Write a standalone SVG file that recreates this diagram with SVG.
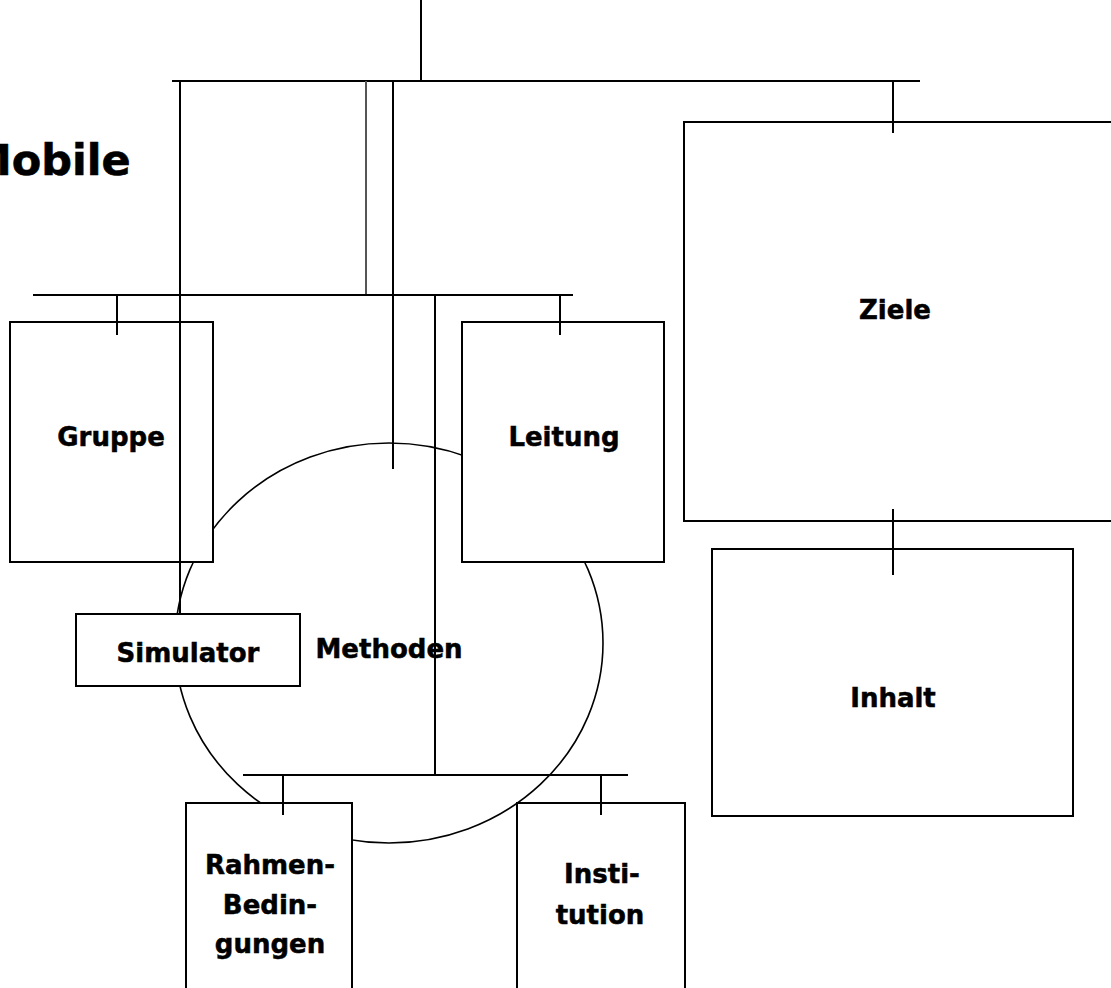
<svg xmlns="http://www.w3.org/2000/svg" width="1111" height="988" viewBox="0 0 1111 988">
<style>
.ln{stroke:#000;stroke-width:2;fill:none}
.bx{stroke:#000;stroke-width:2;fill:#fff}
.t{font-family:"DejaVu Sans","Liberation Sans",sans-serif;font-weight:bold;font-size:26px;fill:#000;stroke:#000;stroke-width:0.5;text-anchor:middle}
</style>
<rect width="1111" height="988" fill="#fff"/>
<text x="-31" y="175" style="font-family:'DejaVu Sans','Liberation Sans',sans-serif;font-weight:bold;font-size:43px;stroke:#000;stroke-width:0.6">Mobile</text>
<g id="methoden">
<ellipse cx="389" cy="643" rx="214" ry="200" class="ln" style="stroke-width:1.6"/>
<text class="t" x="389" y="658">Methoden</text>
</g>
<g id="gruppe">
<rect class="bx" x="10" y="322" width="203" height="240"/>
<text class="t" x="111" y="446">Gruppe</text>
</g>
<g id="leitung">
<rect class="bx" x="462" y="322" width="202" height="240"/>
<text class="t" x="564" y="446">Leitung</text>
</g>
<g id="ziele">
<rect class="bx" x="684" y="122" width="440" height="399"/>
<text class="t" x="895" y="319">Ziele</text>
</g>
<g id="inhalt">
<rect class="bx" x="712" y="549" width="361" height="267"/>
<text class="t" x="893" y="707">Inhalt</text>
</g>
<g id="simulator">
<rect class="bx" x="76" y="614" width="224" height="72"/>
<text class="t" x="188" y="662">Simulator</text>
</g>
<g id="rahmen">
<rect class="bx" x="186" y="803" width="166" height="200"/>
<text class="t" x="270" y="874">Rahmen-</text>
<text class="t" x="270" y="914">Bedin-</text>
<text class="t" x="270" y="953">gungen</text>
</g>
<g id="institution">
<rect class="bx" x="517" y="803" width="168" height="200"/>
<text class="t" x="602" y="883">Insti-</text>
<text class="t" x="600" y="924">tution</text>
</g>
<g id="connectors">
<line class="ln" x1="421" y1="0" x2="421" y2="81"/>
<line class="ln" x1="172" y1="81" x2="920" y2="81"/>
<line class="ln" x1="893" y1="81" x2="893" y2="133"/>
<line class="ln" x1="180" y1="81" x2="180" y2="614"/>
<line class="ln" x1="366" y1="81" x2="366" y2="295" style="stroke:#555"/>
<line class="ln" x1="393" y1="81" x2="393" y2="469"/>
<line class="ln" x1="33" y1="295" x2="573" y2="295"/>
<line class="ln" x1="117" y1="295" x2="117" y2="335"/>
<line class="ln" x1="560" y1="295" x2="560" y2="335"/>
<line class="ln" x1="435" y1="295" x2="435" y2="775"/>
<line class="ln" x1="893" y1="509" x2="893" y2="575"/>
<line class="ln" x1="243" y1="775" x2="628" y2="775"/>
<line class="ln" x1="283" y1="775" x2="283" y2="815"/>
<line class="ln" x1="601" y1="775" x2="601" y2="815"/>
</g>
</svg>
